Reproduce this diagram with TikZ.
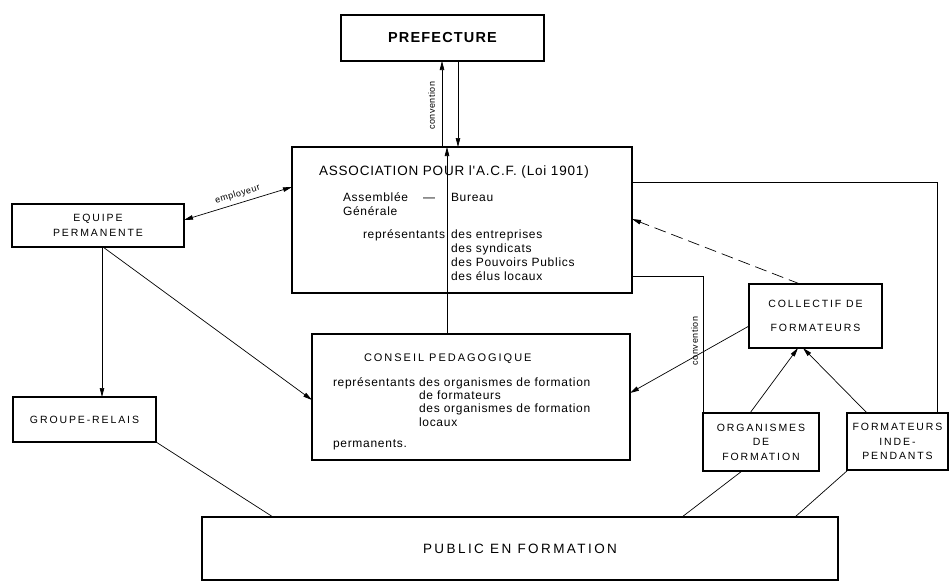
\documentclass[tikz,border=0pt]{standalone}
\usepackage{fontspec}
\setmainfont{Liberation Sans}
\newfontfamily\boxcaps[LetterSpace=18]{Liberation Sans}
\newfontfamily\boxtext[LetterSpace=6]{Liberation Sans}
\newfontfamily\prefcaps[LetterSpace=8]{Liberation Sans}
\usetikzlibrary{arrows.meta}

\begin{document}
\begin{tikzpicture}[
		x=1pt, y=-1pt,
		every node/.style={inner sep=0pt, outer sep=0pt},
		box/.style={draw, rectangle, line width=1.4pt},
		caps/.style={font=\boxcaps\fontsize{10.5}{14.5}\selectfont, align=center},
		txt/.style={font=\boxtext\fontsize{12}{14}\selectfont, anchor=base west},
		lbl/.style={font=\boxtext\fontsize{9}{10}\selectfont},
		arr/.style={-{Triangle[length=9pt,width=4.5pt]}, line width=0.7pt},
		link/.style={line width=0.7pt}
	]
  \useasboundingbox (0,0) rectangle (950,584);
  % boxes
  \node (pref) [box, minimum width=203pt, minimum height=46pt,
    font=\prefcaps\bfseries\fontsize{14.5}{16}\selectfont] at (442.5,38) {PREFECTURE};
  \node (assoc) [box, minimum width=340pt, minimum height=146pt] at (462,220) {};
  \node (equipe) [box, caps, minimum width=172pt, minimum height=43pt] at (98,225.5) {EQUIPE\\PERMANENTE};
  \node (groupe) [box, caps, minimum width=143pt, minimum height=45pt] at (84.5,419.5) {GROUPE-RELAIS};
  \node (conseil) [box, minimum width=318pt, minimum height=126pt] at (471,397) {};
  \node (collectif) [box, caps, minimum width=133pt, minimum height=64pt] at (815.5,316) {COLLECTIF DE\\[10pt]FORMATEURS};
  \node (organismes) [box, caps, minimum width=116pt, minimum height=58pt] at (761,442) {ORGANISMES\\DE\\FORMATION};
  \node (formateurs) [box, caps, minimum width=101pt, minimum height=57pt] at (897.5,441.5) {FORMATEURS\\INDE-\\PENDANTS};
  \node (public) [box, caps, minimum width=636pt, minimum height=63pt,
    font=\boxcaps\fontsize{13.5}{15}\selectfont] at (520,548.5) {PUBLIC EN FORMATION};
  % text of the association
  \node (a_title) [txt, font=\boxtext\fontsize{13.5}{15}\selectfont] at (319,175) {ASSOCIATION POUR l'A.C.F. (Loi 1901)};
  \node (a_ag) [txt] at (343,201) {Assemblée};
  \node (a_dash) [txt] at (423,201) {—};
  \node (a_bureau) [txt] at (451,201) {Bureau};
  \node (a_gen) [txt] at (343,215) {Générale};
  \node (a_rep) [txt] at (363,238) {représentants};
  \node (a_ent) [txt] at (451,238) {des entreprises};
  \node (a_synd) [txt] at (451,252) {des syndicats};
  \node (a_pp) [txt] at (451,266) {des Pouvoirs Publics};
  \node (a_elus) [txt] at (451,280) {des élus locaux};
  % text of the conseil
  \node (c_title) [txt, font=\boxcaps\fontsize{11}{14}\selectfont] at (364,361) {CONSEIL PEDAGOGIQUE};
  \node (c_rep) [txt] at (333,386) {représentants des organismes de formation};
  \node (c_form) [txt] at (419,399) {de formateurs};
  \node (c_org) [txt] at (419,412) {des organismes de formation};
  \node (c_loc) [txt] at (419,426) {locaux};
  \node (c_perm) [txt] at (333,447) {permanents.};
  % connectors
  \draw [arr] ([xshift=-20pt]assoc.north) -- ([xshift=-0.5pt]pref.south)
    node [lbl, pos=0.48, sloped, above=7pt] {convention};
  \draw [arr] ([xshift=15.5pt]pref.south) -- ([xshift=-4pt]assoc.north);
  \draw [arr, {Triangle[length=9pt,width=4.5pt]}-{Triangle[length=9pt,width=4.5pt]}]
    ([yshift=5.5pt]equipe.east) -- ([yshift=33pt]assoc.west)
    node [lbl, pos=0.52, sloped, above=4.5pt] {employeur};
  \draw [arr] ([xshift=4pt]equipe.south) -- ([xshift=17.5pt]groupe.north);
  \draw [arr] ([xshift=5pt]equipe.south) -- ([yshift=-3pt]conseil.west);
  \draw [arr] ([xshift=-24pt]conseil.north) -- ([xshift=-15pt]assoc.north);
  \draw [arr] ([yshift=-10pt]collectif.west) -- ([yshift=4pt]conseil.east);
  \draw [arr, dash pattern=on 12pt off 6pt] ([xshift=-15.5pt]collectif.north) -- ([yshift=1pt]assoc.east);
  \draw [arr] ([xshift=-11pt]organismes.north) -- ([xshift=-17.5pt]collectif.south);
  \draw [arr] ([xshift=-30.5pt]formateurs.north) -- ([xshift=-12.5pt]collectif.south);
  \draw [link] ([yshift=-56pt]assoc.east) -| (organismes.north west)
    node [lbl, pos=0.737, rotate=90, anchor=south, inner sep=5pt] {convention};
  \draw [link] ([yshift=38pt]assoc.east) -| ([xshift=-11pt]formateurs.north east);
  \draw [link] (groupe.south east) -- ([xshift=71pt]public.north west);
  \draw [link] ([xshift=-19pt]organismes.south) -- ([xshift=162pt]public.north);
  \draw [link] ([xshift=-49.5pt]formateurs.south) -- ([xshift=275pt]public.north);
\end{tikzpicture}
\end{document}
